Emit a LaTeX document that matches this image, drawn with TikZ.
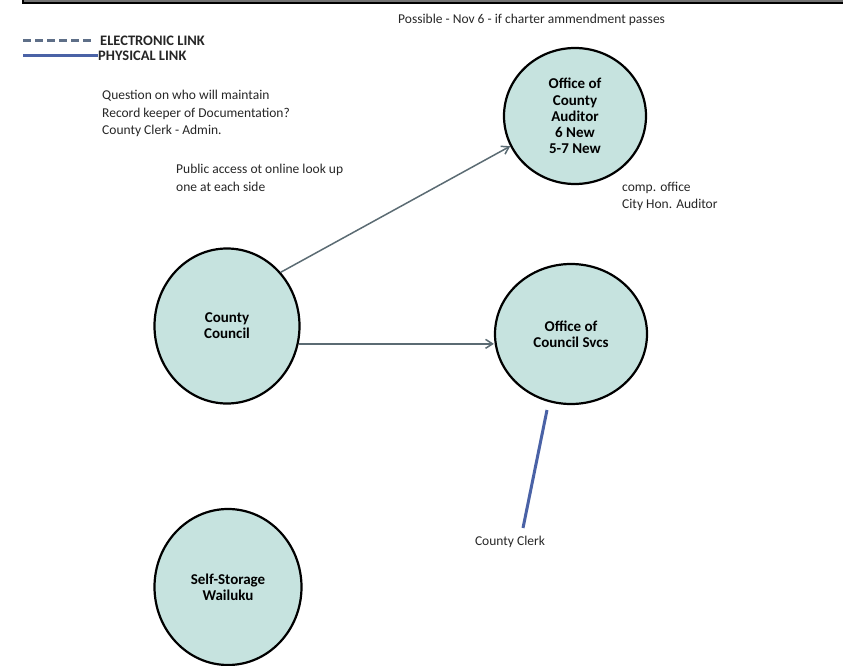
\documentclass[tikz,border=0pt]{standalone}
\usepackage{fontspec}
\setmainfont{Carlito}
\usetikzlibrary{shapes.geometric,arrows.meta}
\definecolor{tealfill}{HTML}{C6E3DF}
\definecolor{arrgray}{HTML}{5B6B73}
\definecolor{elecblue}{HTML}{5E6F88}
\definecolor{physblue}{HTML}{4A62A6}
\tikzset{
  office/.style={ellipse, draw=black, line width=2.2pt, fill=tealfill, inner sep=0pt,
    align=center, font=\bfseries\fontsize{15}{16.2}\selectfont},
  note/.style={anchor=base west, inner sep=0pt, font=\fontsize{13.5}{17.5}\selectfont, text=black!85},
  legendtxt/.style={anchor=base west, inner sep=0pt, font=\bfseries\fontsize{14.5}{16}\selectfont, text=black!85},
  arr/.style={draw=arrgray, line width=1.5pt, -{Straight Barb[length=7pt,width=9pt,line width=1.5pt]}},
  elec/.style={draw=elecblue, line width=3pt, dash pattern=on 8pt off 4pt},
  phys/.style={draw=physblue, line width=3pt},
}
\begin{document}
\begin{tikzpicture}[x=1pt,y=-1pt]
\useasboundingbox (0,0) rectangle (843,666);
\begin{scope}
\clip (0,0) rectangle (843,666);
% top frame
\draw[line width=1.5pt, fill=black!55] (23,-10) rectangle (860,3);
% legend
\coordinate (e1) at (23,41);
\coordinate (e2) at (93,41);
\coordinate (p1) at (23,56);
\coordinate (p2) at (98,56);
\draw[elec] (e1) -- (e2);
\draw[phys] (p1) -- (p2);
\node[legendtxt] (lelec) at (100,46) {ELECTRONIC LINK};
\node[legendtxt] (lphys) at (98,61) {PHYSICAL LINK};
% notes
\node[note, font=\fontsize{13.5}{16}\selectfont] (title) at (398,24) {Possible - Nov 6 - if charter ammendment passes};
\node[note] (q1) at (102,100) {Question on who will maintain};
\node[note] (q2) at (102,117.5) {Record keeper of Documentation?};
\node[note] (q3) at (102,135) {County Clerk - Admin.};
\node[note] (pa1) at (176,173) {Public access ot online look up};
\node[note] (pa2) at (176,191) {one at each side};
\node[note] (co1) at (622,191) {comp. office};
\node[note] (co2) at (622,208.5) {City Hon. Auditor};
% offices
\node[office, minimum width=142pt, minimum height=136pt] (aud) at (575,116) {Office of\\County\\Auditor\\6 New\\5-7 New};
\node[office, minimum width=152pt, minimum height=140pt] (svcs) at (571,334) {Office of\\Council Svcs};
\node[office, minimum width=145pt, minimum height=155pt] (cc) at (227,326) {County\\Council};
\node[office, minimum width=147pt, minimum height=156pt] (ss) at (228,587) {Self-Storage\\Wailuku};
% connectors
\draw[arr] (cc.45) -- (aud.205);
\draw[arr] (cc.-14) -- (cc.-14 -| svcs.west);
\node[note, anchor=base] (clerk) at (510,545) {County Clerk};
\coordinate (pa) at (547,410);
\coordinate (pb) at (523,528);
\draw[phys] (pa) -- (pb);
\end{scope}
\end{tikzpicture}
\end{document}
